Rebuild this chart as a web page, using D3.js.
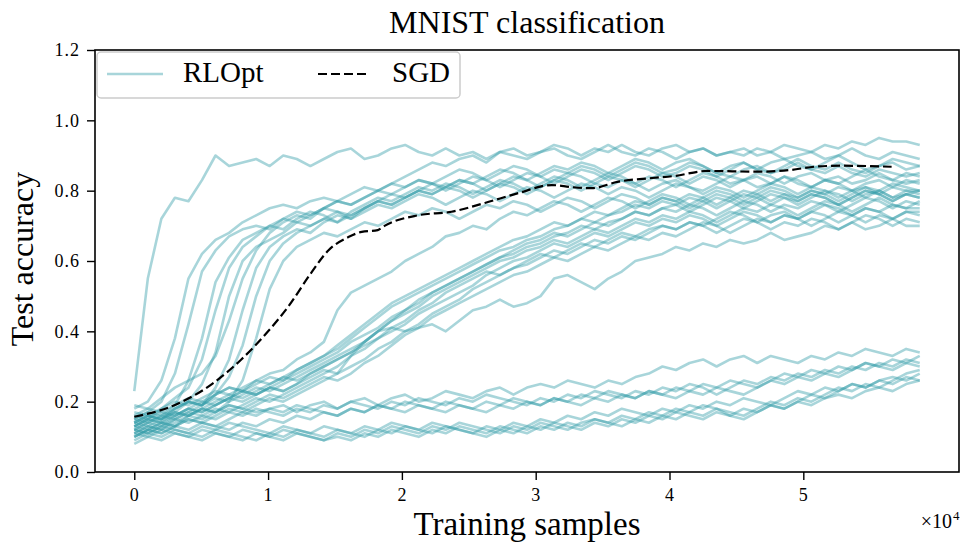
<!doctype html>
<meta charset="utf-8">
<style>
body {
  margin: 0;
  background: #fff;
}
text {
  font-family: "Liberation Serif", "DejaVu Serif", serif;
  fill: #000;
}
</style>
<script src="https://cdn.jsdelivr.net/npm/d3@7/dist/d3.min.js"></script>
<body>

<script>

// RLOpt test accuracy in %, one row per run, evenly spread over the samples seen
var lastSample = 58700;

var fastRun = [
  23,55,72,78,77,83,90,87,88,89, 87,90,89,87,89,91,92,89,90,92,
  93,91,90,92,90,91,89,91,92,90, 91,93,92,90,92,91,93,91,90,92,
  93,91,92,90,91,92,90,91,93,92, 91,93,92,94,93,95,94,94,93
];

var earlyRuns = [
  [18,20,26,38,55,62,66,68,71,73, 75,76,75,77,78,77,79,81,80,82,
   84,86,88,87,89,90,88,91,90,89, 91,92,90,89,91,93,91,90,92,91,
   89,91,92,90,91,90,92,91,89,90, 91,89,90,92,90,89,91,90,89],
  [15,17,20,28,42,57,63,67,69,70, 69,72,74,73,75,77,76,78,80,79,
   81,83,82,80,82,84,83,81,83,85, 84,82,84,86,85,83,85,87,86,84,
   85,87,86,84,86,88,86,85,87,89, 87,86,88,86,85,87,88,86,87],
  [12,14,16,19,26,38,54,61,66,68, 70,69,72,74,73,71,74,76,78,77,
   79,81,80,82,81,79,81,83,82,80, 82,84,83,81,83,85,84,82,84,83,
   81,83,85,84,82,83,85,84,82,84, 85,83,82,84,86,84,83,85,84],
  [16,15,18,21,24,32,46,58,64,67, 70,72,71,73,75,74,72,75,77,79,
   78,80,82,81,83,82,84,86,85,83, 85,87,86,88,87,85,87,89,88,86,
   88,89,87,85,87,88,86,88,89,87, 86,88,90,88,86,87,89,88,87],
  [13,15,14,17,20,25,34,50,60,64, 66,68,71,70,72,74,73,75,77,76,
   78,80,79,81,80,78,80,82,81,79, 81,83,82,80,82,81,83,82,80,82,
   83,81,80,82,84,83,81,82,84,82, 81,83,82,80,82,83,81,83,82],
  [19,18,21,24,26,28,33,43,55,63, 68,71,73,72,75,77,76,78,80,82,
   81,83,82,84,86,85,83,85,87,86, 84,86,85,87,86,84,86,88,87,85,
   86,88,87,85,84,86,87,85,86,88, 86,85,87,85,84,86,85,84,85],
  [11,13,12,15,17,19,24,32,46,58, 64,67,69,68,71,73,72,74,76,75,
   77,79,78,76,78,80,79,77,79,81, 80,78,80,82,81,79,81,80,78,80,
   82,81,79,81,80,78,80,82,81,79, 81,80,78,80,81,79,81,80,80],
  [14,16,15,18,20,19,22,27,36,50, 60,65,68,70,72,71,73,75,77,76,
   78,80,79,81,83,82,80,82,84,83, 81,83,85,84,82,84,83,81,83,85,
   84,82,84,83,81,83,84,82,84,83, 81,83,84,82,83,85,83,82,83],
  [10,12,14,13,16,18,17,20,26,38, 52,60,64,66,68,67,69,71,70,72,
   74,73,75,74,72,74,76,75,77,76, 74,76,78,77,75,77,79,78,76,78,
   77,75,77,79,78,76,78,80,79,77, 79,78,76,78,80,79,77,79,78]
];

var lateRuns = [
  [14,16,15,18,20,19,22,24,23,26, 28,29,32,34,37,46,51,53,55,57,
   60,62,64,67,68,70,69,72,74,73, 75,77,76,74,76,78,77,75,77,79,
   78,76,78,80,79,77,79,81,80,78, 80,79,81,80,78,80,82,81,80],
  [12,14,13,16,18,17,19,21,23,22, 24,26,28,30,32,34,37,39,41,44,
   46,49,51,53,55,57,59,61,62,64, 65,67,68,70,69,71,72,74,73,75,
   76,74,76,78,77,75,77,79,78,76, 78,80,79,77,79,80,78,79,80],
  [15,17,16,18,20,19,21,20,22,24, 23,25,27,29,31,33,35,37,40,43,
   45,47,50,52,54,56,58,60,61,63, 64,66,65,67,69,68,70,72,71,73,
   72,74,73,71,73,75,74,76,75,73, 75,77,76,74,76,78,76,75,77],
  [13,15,17,16,18,20,19,21,23,22, 24,23,25,28,30,32,34,36,38,41,
   43,46,48,51,53,55,57,56,58,60, 62,61,63,65,64,66,68,67,69,70,
   69,71,70,72,74,73,71,73,74,72, 74,76,75,73,75,74,76,75,75],
  [11,13,12,14,16,15,17,19,18,20, 22,21,23,25,27,26,28,31,33,36,
   39,41,44,46,48,50,52,54,56,57, 59,61,60,62,64,63,65,67,66,68,
   67,69,71,70,68,70,72,71,73,72, 70,72,74,73,71,73,72,74,73],
  [16,18,17,19,21,20,22,24,23,25, 27,26,29,31,33,35,38,41,44,47,
   49,51,53,55,57,59,61,63,64,66, 67,69,70,72,71,73,74,76,75,77,
   76,78,77,75,77,79,78,76,78,77, 79,78,76,78,80,79,77,79,78],
  [10,12,11,13,15,14,16,18,17,19, 21,20,22,24,26,28,30,32,35,37,
   40,42,45,47,49,52,54,56,58,59, 61,63,62,64,66,65,67,66,68,70,
   69,71,70,68,70,72,71,69,71,70, 72,71,69,71,73,72,70,72,71],
  [14,13,15,17,16,18,20,22,21,23, 25,27,26,28,30,32,34,37,40,43,
   46,48,51,53,55,57,59,61,63,65, 66,68,67,69,71,70,72,74,73,75,
   74,76,75,73,75,77,76,74,76,75, 77,76,74,76,78,77,75,77,76],
  [12,11,13,15,14,16,18,17,19,21, 20,22,24,26,28,30,33,35,38,40,
   42,45,47,49,51,53,56,58,60,61, 63,65,64,66,68,67,69,71,70,72,
   71,73,72,70,72,74,73,71,73,72, 74,73,71,73,75,74,72,74,74],
  [17,16,18,20,19,21,23,22,24,26, 25,27,29,31,33,36,39,42,45,48,
   50,52,54,56,58,60,62,64,66,67, 69,71,70,72,74,73,75,77,76,78,
   77,79,78,76,78,80,79,77,79,78, 80,79,77,79,81,80,78,80,79]
];

var slowRun = [
  13,15,14,16,18,17,19,21,20,22, 24,23,25,27,29,28,33,37,40,41,
  40,41,42,40,43,46,47,49,47,48, 50,55,56,54,52,55,57,60,61,62,
  64,63,65,64,66,65,66,68,66,67, 68,70,69,71,69,70,72,70,70
];

var flatRuns = [
  [14,16,15,17,16,18,17,19,18,17, 18,19,17,19,20,18,20,21,19,21,
   22,20,21,23,22,21,23,24,22,24, 25,24,26,25,24,26,25,27,28,30,
   29,31,32,30,32,33,31,33,32,31, 33,32,34,33,35,34,33,35,34],
  [10,12,11,13,12,14,13,12,14,13, 15,14,16,15,17,16,18,17,19,18,
   17,19,18,20,19,18,20,19,21,20, 19,21,20,22,21,23,22,21,23,22,
   24,23,25,24,26,25,24,26,28,27, 29,28,30,29,31,30,32,31,33],
  [12,11,13,12,11,13,12,14,13,12, 11,13,12,11,10,12,11,13,12,14,
   13,12,14,13,12,11,13,12,14,13, 15,14,16,15,17,16,18,17,16,18,
   17,19,18,20,19,21,20,19,21,23, 22,24,23,25,24,26,25,27,26],
  [9,11,10,12,11,10,12,11,10,9, 11,10,12,11,13,12,11,10,12,11,
   13,12,11,13,12,11,10,12,11,13, 12,14,13,12,14,13,15,14,16,15,
   17,16,15,17,16,18,17,19,18,20, 19,21,22,21,23,24,23,25,26],
  [15,14,16,15,17,16,15,17,16,18, 17,16,18,17,19,18,20,19,18,20,
   19,21,20,19,21,20,22,21,20,19, 21,20,22,21,23,22,21,23,22,24,
   23,25,24,22,24,26,25,27,26,28, 27,29,28,30,29,31,30,32,31],
  [11,10,12,11,10,9,11,10,12,11, 10,9,11,10,9,11,10,12,11,13,
   12,11,13,12,14,13,12,11,13,12, 14,13,12,14,15,14,16,15,17,16,
   18,17,19,18,16,15,17,19,18,20, 22,21,23,25,24,26,27,26,28],
  [13,12,14,13,15,14,13,15,17,16, 18,17,19,18,17,16,18,17,19,18,
   20,19,18,17,19,18,17,19,18,20, 19,21,20,19,21,20,22,21,23,22,
   21,23,22,24,23,22,24,26,25,27, 26,28,27,29,31,30,29,31,30],
  [8,10,9,11,10,12,11,10,9,11, 10,12,11,10,9,10,9,11,10,12,
   11,10,12,11,13,12,11,13,12,11, 13,12,14,13,15,14,13,15,14,16,
   15,17,16,18,17,16,18,20,19,21, 20,22,24,23,25,24,26,28,29]
];

// SGD baseline
var sgdSamples = [0, 3000, 5800, 8000, 10000, 11500, 13200, 14500, 16000, 17000,
  18200, 18700, 21200, 23700, 26200, 28700, 31200, 32700, 34200, 36100,
  38700, 40400, 42800, 46600, 49100, 50800, 52800, 56600];
var sgdAccuracy = [0.157, 0.19, 0.25, 0.32, 0.40, 0.47, 0.565, 0.63, 0.668, 0.683,
  0.688, 0.70, 0.73, 0.74, 0.765, 0.793, 0.816, 0.81, 0.807, 0.825,
  0.836, 0.842, 0.856, 0.854, 0.859, 0.868, 0.871, 0.868];

var xTicks = [0, 10000, 20000, 30000, 40000, 50000];
var yTicks = [0, 0.2, 0.4, 0.6, 0.8, 1.0, 1.2];

var w = 960, h = 542;
var plotLeft = 95, plotRight = 959, plotTop = 50, plotBottom = 472;

var svg = d3.select("body")
  .append("svg")
    .attr("width", w)
    .attr("height", h)

var x = d3.scaleLinear()
    .domain([-0.05 * lastSample, 1.05 * lastSample])
    .range([plotLeft, plotRight]);

var y = d3.scaleLinear()
    .domain([0, 1.2])
    .range([plotBottom, plotTop]);

var runs = [fastRun].concat(earlyRuns, lateRuns, [slowRun], flatRuns);

function runPoints(r) {
  return r.map(function(v, i) {
    return [i * lastSample / (r.length - 1), v / 100];
  });
}

var line = d3.line()
    .x(function(d) { return x(d[0]); })
    .y(function(d) { return y(d[1]); });

var teal = "#2f9ca7";

svg.append("g")
  .selectAll("path")
  .data(runs)
  .join("path")
    .attr("d", function(r) { return line(runPoints(r)); })
    .attr("fill", "none")
    .attr("stroke", teal)
    .attr("stroke-opacity", 0.42)
    .attr("stroke-width", 2.6)
    .attr("stroke-linejoin", "round");

var sgdLine = d3.line()
    .curve(d3.curveMonotoneX)
    .x(function(d, i) { return x(sgdSamples[i]); })
    .y(function(d) { return y(d); });

svg.append("path")
    .attr("d", sgdLine(sgdAccuracy))
    .attr("fill", "none")
    .attr("stroke", "#000")
    .attr("stroke-width", 2.2)
    .attr("stroke-dasharray", "9,4");

// axes
var xAxis = svg.append("g")
    .attr("transform", "translate(0," + plotBottom + ")")
    .call(d3.axisBottom(x)
      .tickValues(xTicks)
      .tickFormat(function(d) { return d / 10000; })
      .tickSize(8)
      .tickPadding(8));

var yAxis = svg.append("g")
    .attr("transform", "translate(" + plotLeft + ",0)")
    .call(d3.axisLeft(y)
      .tickValues(yTicks)
      .tickFormat(d3.format(".1f"))
      .tickSize(8)
      .tickPadding(7));

[xAxis, yAxis].forEach(function(g) {
  g.select(".domain").remove();
  g.attr("font-family", null);
  g.selectAll(".tick line").attr("stroke", "#000").attr("stroke-width", 1.4);
  g.selectAll(".tick text")
      .attr("fill", "#000")
      .style("font-size", "18px")
      .style("letter-spacing", "1px");
});

svg.append("rect")
    .attr("x", plotLeft)
    .attr("y", plotTop)
    .attr("width", plotRight - plotLeft)
    .attr("height", plotBottom - plotTop)
    .attr("fill", "none")
    .attr("stroke", "#000")
    .attr("stroke-width", 1.6);

svg.append("text")
    .attr("x", 952)
    .attr("y", 528)
    .attr("text-anchor", "end")
    .style("font-size", "20px")
    .text("\u00d710");

svg.append("text")
    .attr("x", 953)
    .attr("y", 520)
    .style("font-size", "13px")
    .text("4");

// labels
svg.append("text")
    .attr("x", (plotLeft + plotRight) / 2)
    .attr("y", 33)
    .attr("text-anchor", "middle")
    .style("font-size", "32px")
    .text("MNIST classification");

svg.append("text")
    .attr("x", (plotLeft + plotRight) / 2)
    .attr("y", 535)
    .attr("text-anchor", "middle")
    .style("font-size", "33px")
    .text("Training samples");

svg.append("text")
    .attr("transform", "translate(33,259) rotate(-90)")
    .attr("text-anchor", "middle")
    .style("font-size", "32px")
    .text("Test accuracy");

// legend
var legend = svg.append("g");

legend.append("rect")
    .attr("x", 97)
    .attr("y", 52)
    .attr("width", 363)
    .attr("height", 46)
    .attr("rx", 4)
    .attr("fill", "#fff")
    .attr("fill-opacity", 0.8)
    .attr("stroke", "#cccccc")
    .attr("stroke-width", 1.5);

legend.append("line")
    .attr("x1", 107).attr("x2", 163)
    .attr("y1", 74).attr("y2", 74)
    .attr("stroke", teal)
    .attr("stroke-opacity", 0.42)
    .attr("stroke-width", 2.6);

legend.append("text")
    .attr("x", 183)
    .attr("y", 82)
    .style("font-size", "29px")
    .text("RLOpt");

legend.append("line")
    .attr("x1", 318).attr("x2", 370)
    .attr("y1", 74).attr("y2", 74)
    .attr("stroke", "#000")
    .attr("stroke-width", 2.2)
    .attr("stroke-dasharray", "9,4");

legend.append("text")
    .attr("x", 392)
    .attr("y", 82)
    .style("font-size", "29px")
    .text("SGD");

</script>
